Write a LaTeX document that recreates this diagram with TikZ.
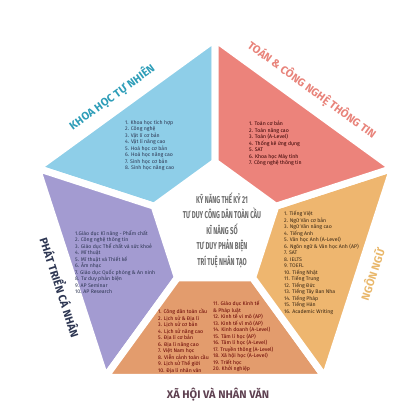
\documentclass[tikz,border=0pt]{standalone}
\usepackage{fontspec}
\setmainfont{Fira Sans}
\newfontfamily\narrowfont{Fira Sans}[FakeStretch=0.6]
\usetikzlibrary{positioning}

\definecolor{sciblue}{HTML}{8ECEE8}
\definecolor{mathpink}{HTML}{EC837B}
\definecolor{langyellow}{HTML}{EEB66F}
\definecolor{socorange}{HTML}{E39C6D}
\definecolor{persviolet}{HTML}{A39BD1}
\definecolor{scitext}{HTML}{2D9DB8}
\definecolor{mathtext}{HTML}{E8837A}
\definecolor{langtext}{HTML}{E9B86C}
\definecolor{perstext}{HTML}{2D3652}
\definecolor{soctext}{HTML}{5E4050}
\definecolor{coretext}{HTML}{6B6B6B}

\tikzset{
    segment/.style={draw=white, line width=7pt, line join=round},
    itemlist/.style={align=left, anchor=north west, inner sep=0pt,
        font=\fontsize{5.2}{6.5}\selectfont},
    sidelabel/.style={inner sep=0pt, font=\fontsize{11}{12}\selectfont\bfseries},
}

\begin{document}
\begin{tikzpicture}[x=1pt, y=1pt]
        \useasboundingbox (0,0) rectangle (420,420);
        \coordinate (c) at (215,194);
        \foreach \k/\a in {1/90, 2/162, 3/234, 4/306, 5/18} {
            \path (c) ++(\a:187) coordinate (o\k);
            \path (c) ++(\a:64) coordinate (i\k);
        }
        % the five segments
        \filldraw [segment, fill=sciblue] (o1) -- (o2) -- (i2) -- (i1) -- cycle;
        \filldraw [segment, fill=persviolet] (o2) -- (o3) -- (i3) -- (i2) -- cycle;
        \filldraw [segment, fill=socorange] (o3) -- (o4) -- (i4) -- (i3) -- cycle;
        \filldraw [segment, fill=langyellow] (o4) -- (o5) -- (i5) -- (i4) -- cycle;
        \filldraw [segment, fill=mathpink] (o5) -- (o1) -- (i1) -- (i5) -- cycle;

        % centre
        \node [align=center, text=coretext, inner sep=0pt,
            font=\narrowfont\fontsize{10}{15.5}\selectfont\bfseries] (core) at (222,190)
            {KỸ NĂNG THẾ KỶ 21\\TƯ DUY CÔNG DÂN TOÀN CẦU\\KĨ NĂNG SỐ\\TƯ DUY PHẢN BIỆN\\TRÍ TUỆ NHÂN TẠO};

        % side labels
        \node [sidelabel, text=scitext, rotate=36] (scilabel) at (112,323) {KHOA HỌC TỰ NHIÊN};
        \node [sidelabel, text=mathtext, rotate=-36] (mathlabel) at (312,330) {TOÁN \& CÔNG NGHỆ THÔNG TIN};
        \node [sidelabel, text=langtext, rotate=72] (langlabel) at (372,146) {NGÔN NGỮ};
        \node [sidelabel, text=perstext, rotate=-72] (perslabel) at (61,133) {PHÁT TRIỂN CÁ NHÂN};
        \node [sidelabel, text=soctext] (soclabel) at (218,25) {XÃ HỘI VÀ NHÂN VĂN};

        % subject lists
        \node [itemlist, text=perstext] (scilist) at (125,300)
            {1. Khoa học tích hợp\\2. Công nghệ\\3. Vật lí cơ bản\\4. Vật lí nâng cao\\5. Hoá học cơ bản\\6. Hoá học nâng cao\\7. Sinh học cơ bản\\8. Sinh học nâng cao};
        \node [itemlist, text=black!80!red] (mathlist) at (249,299)
            {1. Toán cơ bản\\2. Toán nâng cao\\3. Toán (A-Level)\\4. Thống kê ứng dụng\\5. SAT\\6. Khoa học Máy tính\\7. Công nghệ thông tin};
        \node [itemlist, text=black!70!brown] (langlist) at (284,209)
            {1. Tiếng Việt\\2. Ngữ Văn cơ bản\\3. Ngữ Văn nâng cao\\4. Tiếng Anh\\5. Văn học Anh (A-Level)\\6. Ngôn ngữ \& Văn học Anh (AP)\\7. SAT\\8. IELTS\\9. TOEFL\\10. Tiếng Nhật\\11. Tiếng Trung\\12. Tiếng Đức\\13. Tiếng Tây Ban Nha\\14. Tiếng Pháp\\15. Tiếng Hàn\\16. Academic Writing};
        \node [itemlist, text=perstext] (perslist) at (75,190)
            {1.Giáo dục Kĩ năng - Phẩm chất\\2. Công nghệ thông tin\\3. Giáo dục Thể chất và sức khoẻ\\4. Mĩ thuật\\5. Mĩ thuật và Thiết kế\\6. Âm nhạc\\7. Giáo dục Quốc phòng \& An ninh\\8. Tư duy phản biện\\9. AP Seminar\\10. AP Research};
        \node [itemlist, text=black!60!red] (soclist) at (158,111)
            {1. Công dân toàn cầu\\2. Lịch sử \& Địa lí\\3. Lịch sử cơ bản\\4. Lịch sử nâng cao\\5. Địa lí cơ bản\\6. Địa lí nâng cao\\7. Việt Nam học\\8. Viễn cảnh toàn cầu\\9. Lịch sử Thế giới\\10. Địa lí nhân văn};
        \node [itemlist, text=black!60!red] (soclisttwo) at (213,119)
            {11. Giáo dục Kinh tế\\\& Pháp luật\\12. Kinh tế vi mô (AP)\\13. Kinh tế vĩ mô (AP)\\14. Kinh doanh (A-Level)\\15. Tâm lí học (AP)\\16. Tâm lí học (A-Level)\\17. Truyền thông (A-Level)\\18. Xã hội học (A-Level)\\19. Triết học\\20. Khởi nghiệp};
    \end{tikzpicture}
\end{document}
